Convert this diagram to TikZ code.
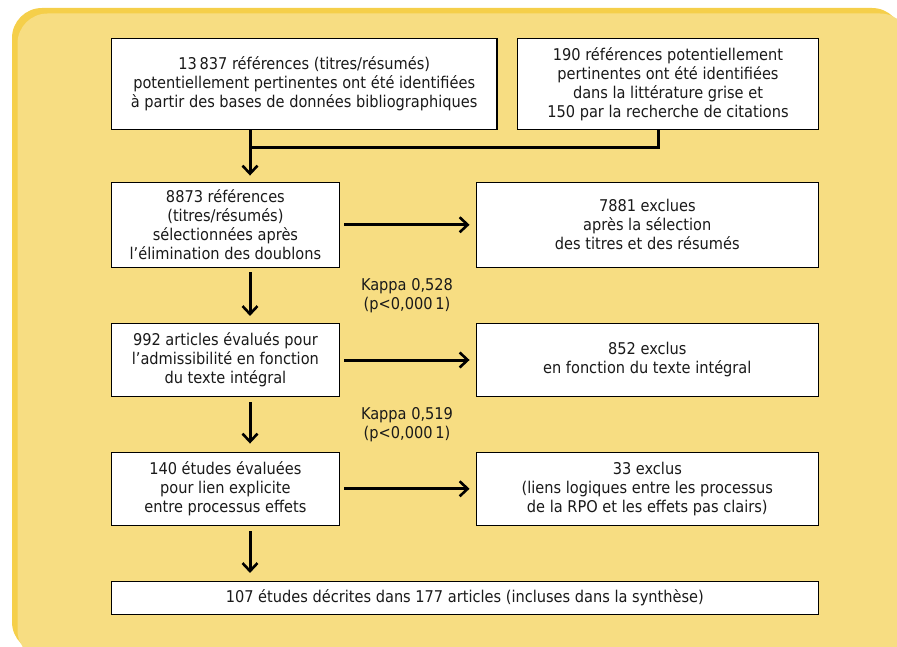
\documentclass[tikz,border=0pt]{standalone}
\usepackage{fontspec}
\setmainfont{DejaVu Sans Condensed}
\usetikzlibrary{arrows.meta}

\definecolor{fondjaune}{HTML}{F7DD82}
\definecolor{bordjaune}{HTML}{F5CF4A}
\definecolor{texte}{HTML}{1A1A1A}

\tikzset{
	boite/.style={draw=black, fill=white, line width=1.5pt, align=center,
			inner sep=0pt, text=texte, font=\fontsize{16.2}{19}\selectfont},
	fleche/.style={line width=3pt, -{Straight Barb[length=8pt,width=15pt,line width=2.6pt]}},
	ligne/.style={line width=3pt},
	note/.style={align=center, text=texte, font=\fontsize{16.2}{19}\selectfont}
}

\begin{document}
\begin{tikzpicture}[x=1pt,y=-1pt]
	\useasboundingbox (0,0) rectangle (897,647);
	% fond
	\fill[bordjaune, rounded corners=30pt] (12,8) rectangle (902,652);
	\fill[fondjaune, rounded corners=30pt] (17.5,13.5) rectangle (910,660);

	% boites
	\node[boite, minimum width=385.7pt, minimum height=91pt] (bases) at (304.2,83.8)
		{13\,837 références (titres/résumés)\\potentiellement pertinentes ont été identifiées\\à partir des bases de données bibliographiques};
	\node[boite, minimum width=301.4pt, minimum height=91pt] (grise) at (668,83.8)
		{190 références potentiellement\\pertinentes ont été identifiées\\dans la littérature grise et\\150 par la recherche de citations};
	\node[boite, minimum width=228.2pt, minimum height=85pt] (doublons) at (225.4,224.8)
		{8873 références\\(titres/résumés)\\sélectionnées après\\l’élimination des doublons};
	\node[boite, minimum width=342pt, minimum height=85pt] (excl1) at (647.3,224.8)
		{7881 exclues\\après la sélection\\des titres et des résumés};
	\node[boite, minimum width=228.2pt, minimum height=72.6pt] (articles) at (225.4,360)
		{992 articles évalués pour\\l’admissibilité en fonction\\du texte intégral};
	\node[boite, minimum width=342pt, minimum height=72.6pt] (excl2) at (647.3,360)
		{852 exclus\\en fonction du texte intégral};
	\node[boite, minimum width=228.2pt, minimum height=73pt] (etudes) at (225.4,488.8)
		{140 études évaluées\\pour lien explicite\\entre processus effets};
	\node[boite, minimum width=342pt, minimum height=73pt] (excl3) at (647.3,488.8)
		{33 exclus\\(liens logiques entre les processus\\de la RPO et les effets pas clairs)};
	\node[boite, minimum width=707pt, minimum height=32.6pt] (synthese) at (464.8,598)
		{107 études décrites dans 177 articles (incluses dans la synthèse)};

	% kappa
	\node[note] (kappa1) at (407,296) {Kappa 0,528\\(p<0,000\,1)};
	\node[note] (kappa2) at (407,425) {Kappa 0,519\\(p<0,000\,1)};

	% fleches
	\coordinate (col) at (250,0);
	\coordinate (col2) at (658,0);
	\coordinate (jonction) at (250,148);
	\draw[fleche, shorten >=6pt] (bases.south -| col) -- (doublons.north -| col);
	\draw[ligne] (grise.south -| col2) |- (jonction);
	\draw[fleche, shorten <=4pt, shorten >=7pt] (doublons.south -| col) -- (articles.north -| col);
	\draw[fleche, shorten <=5pt, shorten >=8pt] (articles.south -| col) -- (etudes.north -| col);
	\draw[fleche, shorten <=5pt, shorten >=8pt] (etudes.south -| col) -- (synthese.north -| col);
	\draw[fleche, shorten <=4pt, shorten >=6pt] (doublons) -- (excl1);
	\draw[fleche, shorten <=4pt, shorten >=6pt] (articles) -- (excl2);
	\draw[fleche, shorten <=4pt, shorten >=6pt] (etudes) -- (excl3);
\end{tikzpicture}
\end{document}
